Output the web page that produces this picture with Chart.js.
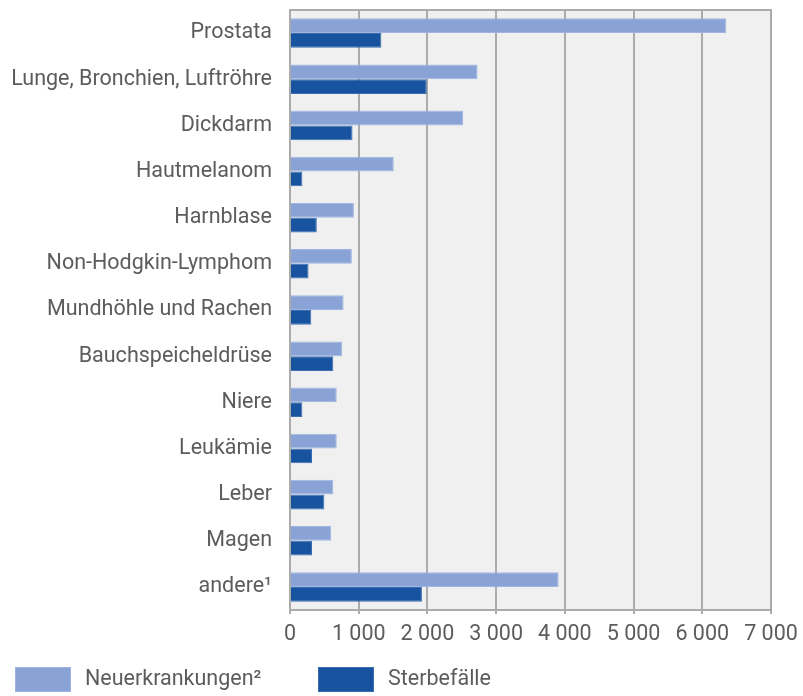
<!DOCTYPE html>
<html lang="de">
<head>
<meta charset="utf-8">
<title>Krebs bei Männern – Neuerkrankungen und Sterbefälle</title>
<script src="https://cdn.jsdelivr.net/npm/chart.js@4/dist/chart.umd.min.js"></script>
<style>
  html, body { margin: 0; padding: 0; background: #ffffff; }
  #wrap { width: 803px; height: 696px; position: relative; }
</style>
</head>
<body>
<div id="wrap"><canvas id="chart" width="803" height="696"></canvas></div>
<script>
// Lokalisationen
const categories = [
  'Prostata',
  'Lunge, Bronchien, Luftröhre',
  'Dickdarm',
  'Hautmelanom',
  'Harnblase',
  'Non-Hodgkin-Lymphom',
  'Mundhöhle und Rachen',
  'Bauchspeicheldrüse',
  'Niere',
  'Leukämie',
  'Leber',
  'Magen',
  'andere\u00B9'
];

// Neuerkrankungen und Sterbefälle je Lokalisation
const newCases = [6350, 2730, 2520, 1510, 930, 900, 780, 760, 680, 680, 630, 600, 3910];
const deaths   = [1330, 1990, 910, 180, 390, 270, 310, 630, 180, 320, 500, 320, 1920];

const seriesLabels = ['Neuerkrankungen\u00B2', 'Sterbefälle'];
const xTicks = [0, 1000, 2000, 3000, 4000, 5000, 6000, 7000];

const FONT = 'Roboto, "Noto Sans", sans-serif';
const FONT_SIZE = 21.5;
const TEXT = '#5c5c5c';
const GRID = '#ababab';

// Hintergrund und Rahmen der Zeichenfläche
const plotFrame = {
  id: 'plotFrame',
  beforeDraw(chart) {
    const { ctx, chartArea: a } = chart;
    ctx.save();
    ctx.fillStyle = '#f0f0f0';
    ctx.fillRect(a.left, a.top, a.right - a.left, a.bottom - a.top);
    ctx.restore();
  },
  beforeDatasetsDraw(chart) {
    const { ctx, chartArea: a } = chart;
    ctx.save();
    ctx.strokeStyle = GRID;
    ctx.lineWidth = 2;
    ctx.beginPath();
    ctx.moveTo(a.left - 1, a.top);
    ctx.lineTo(a.right + 1, a.top);
    ctx.stroke();
    ctx.restore();
  }
};

// Legende unten links
const bottomLegend = {
  id: 'bottomLegend',
  afterDraw(chart) {
    const { ctx } = chart;
    const items = [
      { x: 15, textX: 85 },
      { x: 318, textX: 388 }
    ];
    ctx.save();
    ctx.font = FONT_SIZE + 'px ' + FONT;
    ctx.textBaseline = 'middle';
    ctx.textAlign = 'left';
    chart.data.datasets.forEach((ds, i) => {
      const it = items[i];
      ctx.fillStyle = ds.backgroundColor;
      ctx.fillRect(it.x, 667, 56, 25);
      ctx.strokeStyle = ds.borderColor;
      ctx.lineWidth = 1;
      ctx.strokeRect(it.x + 0.5, 667.5, 55, 24);
      ctx.fillStyle = TEXT;
      ctx.fillText(ds.label, it.textX, 680);
    });
    ctx.restore();
  }
};

const fmt = v => v === 0 ? '0' : String(v).replace(/\B(?=(\d{3})+(?!\d))/g, ' ');

new Chart(document.getElementById('chart'), {
  type: 'bar',
  data: {
    labels: categories,
    datasets: [
      {
        label: seriesLabels[0],
        data: newCases,
        backgroundColor: '#8aa3d6',
        borderColor: '#9fb4e0',
        borderWidth: 1,
        borderSkipped: 'start'
      },
      {
        label: seriesLabels[1],
        data: deaths,
        backgroundColor: '#17539e',
        borderColor: '#3a6cb0',
        borderWidth: 1,
        borderSkipped: 'start'
      }
    ]
  },
  options: {
    indexAxis: 'y',
    responsive: false,
    animation: false,
    devicePixelRatio: 1,
    layout: { padding: { left: 0, right: 32, top: 10, bottom: 0 } },
    datasets: {
      bar: { categoryPercentage: 0.64, barPercentage: 1.0 }
    },
    plugins: {
      legend: { display: false },
      tooltip: { enabled: false }
    },
    scales: {
      x: {
        type: 'linear',
        min: 0,
        max: 7000,
        afterBuildTicks(scale) {
          scale.ticks = xTicks.map(v => ({ value: v }));
        },
        afterFit(scale) {
          scale.height = 86;
          scale.paddingLeft = 0;
          scale.paddingRight = 0;
        },
        grid: {
          color: GRID,
          lineWidth: 2,
          drawTicks: true,
          tickLength: 4,
          tickColor: GRID
        },
        border: { display: true, color: GRID, width: 2 },
        ticks: {
          padding: 8,
          color: TEXT,
          font: { family: FONT, size: FONT_SIZE },
          maxRotation: 0,
          callback: v => fmt(v)
        }
      },
      y: {
        afterFit(scale) {
          scale.width = 290;
          scale.paddingTop = 0;
          scale.paddingBottom = 0;
        },
        grid: { display: false, drawTicks: false },
        border: { display: false },
        ticks: {
          padding: 18,
          color: TEXT,
          font: { family: FONT, size: FONT_SIZE }
        }
      }
    }
  },
  plugins: [plotFrame, bottomLegend]
});
</script>
</body>
</html>
